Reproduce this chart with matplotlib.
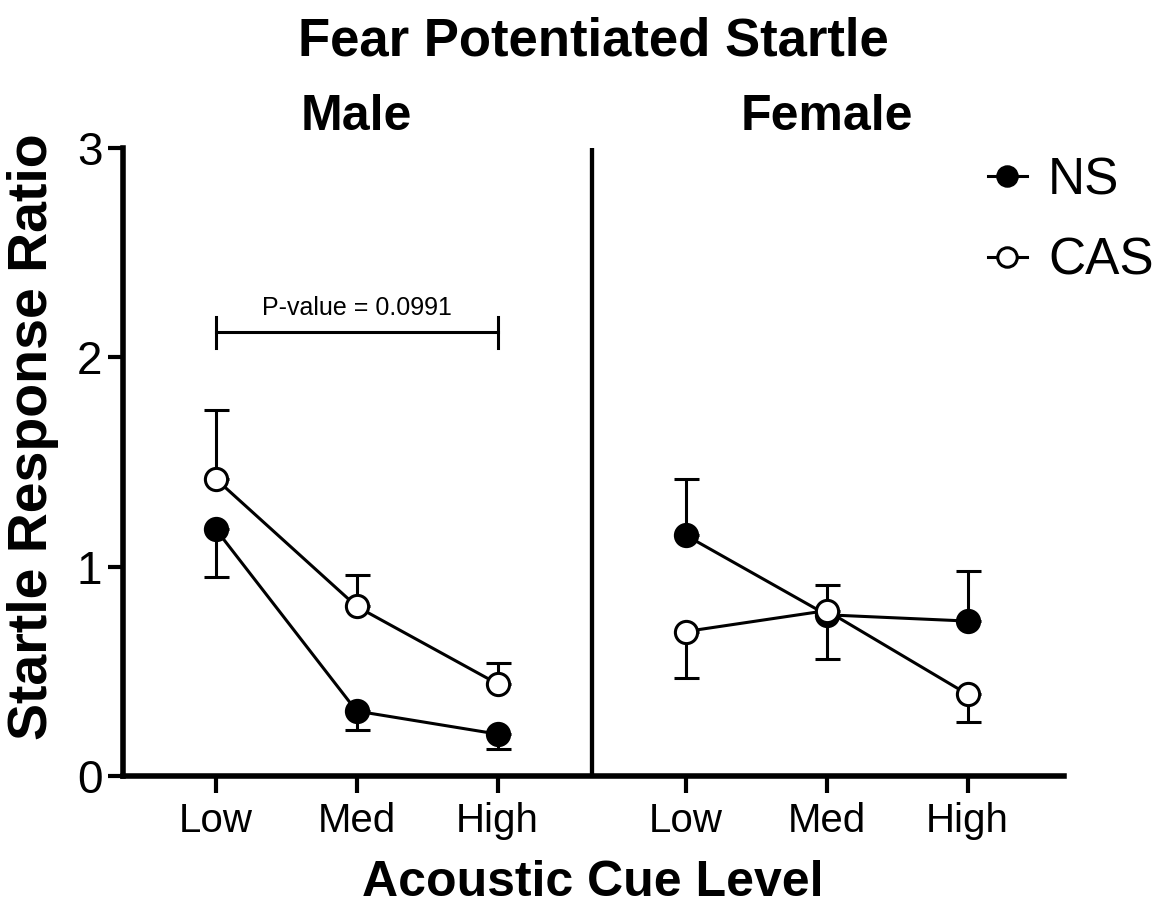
import matplotlib
matplotlib.use('Agg')
import matplotlib.pyplot as plt
from matplotlib.lines import Line2D
import numpy as np

plt.rcParams['font.family'] = 'Liberation Sans'

levels = ['Low', 'Med', 'High']

# startle ratio means, with one-sided SEM bars (lower, upper)
male_ns = [1.18, 0.31, 0.20]
male_ns_lo = [0.23, 0.09, 0.07]
male_ns_hi = [0.0, 0.0, 0.0]
male_cas = [1.42, 0.81, 0.44]
male_cas_lo = [0.0, 0.0, 0.0]
male_cas_hi = [0.33, 0.15, 0.10]

female_ns = [1.15, 0.77, 0.74]
female_ns_lo = [0.0, 0.0, 0.0]
female_ns_hi = [0.27, 0.14, 0.24]
female_cas = [0.69, 0.79, 0.39]
female_cas_lo = [0.22, 0.23, 0.13]
female_cas_hi = [0.0, 0.0, 0.0]

p_label = 'P-value = 0.0991'
p_y = 2.12

lw = 2.2
ms = 16

fig = plt.figure(figsize=(11.66, 9.08), dpi=100)
ax = fig.add_axes([0.1057, 0.1454, 0.8068, 0.6916])

xm = np.arange(3)
xf = np.arange(3) + 10 / 3.
mid = (xm[-1] + xf[0]) / 2


def draw(x, y, lo, hi, filled, z):
    ax.errorbar(x, y, yerr=[lo, hi], fmt='-o', color='black',
                linewidth=lw, elinewidth=lw, capsize=9, capthick=lw,
                markersize=ms, markeredgewidth=lw,
                markerfacecolor='black' if filled else 'white',
                markeredgecolor='black', zorder=z)


draw(xm, male_ns, male_ns_lo, male_ns_hi, True, 3)
draw(xm, male_cas, male_cas_lo, male_cas_hi, False, 4)
draw(xf, female_ns, female_ns_lo, female_ns_hi, True, 3)
draw(xf, female_cas, female_cas_lo, female_cas_hi, False, 4)

# divider between sexes
ax.plot([mid, mid], [0, 2.99], color='black', linewidth=3.1, zorder=2)

# significance bracket
ax.plot([xm[0], xm[-1]], [p_y, p_y], color='black', linewidth=lw)
for xx in (xm[0], xm[-1]):
    ax.plot([xx, xx], [p_y - 0.075, p_y + 0.075], color='black', linewidth=lw)
ax.text(xm[1], p_y + 0.08, p_label, ha='center', va='baseline', fontsize=18)

ax.set_xlim(-0.655, xf[-1] + 0.683)
ax.set_ylim(0, 3)
ax.set_yticks([0, 1, 2, 3])
ax.set_xticks(np.concatenate([xm, xf]))
ax.set_xticklabels(levels + levels)
ax.tick_params(axis='y', labelsize=33, length=11, width=3, pad=4)
ax.tick_params(axis='x', labelsize=29, length=12, width=3, pad=7)

for s in ('top', 'right'):
    ax.spines[s].set_visible(False)
for s in ('left', 'bottom'):
    ax.spines[s].set_linewidth(4)

ax.text(xm[1], 3.086, 'Male', ha='center', va='baseline',
        fontsize=36, fontweight='bold', clip_on=False)
ax.text(xf[1], 3.086, 'Female', ha='center', va='baseline',
        fontsize=36, fontweight='bold', clip_on=False)

fig.text(593 / 1166, 1 - 55 / 908, 'Fear Potentiated Startle', ha='center',
         va='baseline', fontsize=38, fontweight='bold')
fig.text(33 / 1166, 1 - 437 / 908, 'Startle Response Ratio', rotation=90,
         ha='center', va='center', fontsize=40, fontweight='bold')
fig.text(593 / 1166, 1 - 896 / 908, 'Acoustic Cue Level', ha='center',
         va='baseline', fontsize=36, fontweight='bold')

handles = [
    Line2D([], [], color='black', linewidth=lw, marker='o', markersize=14,
           markeredgewidth=lw, markerfacecolor='black'),
    Line2D([], [], color='black', linewidth=lw, marker='o', markersize=14,
           markeredgewidth=lw, markerfacecolor='white'),
]
fig.legend(handles, ['NS', 'CAS'], loc='center left',
           bbox_to_anchor=(988 / 1166, 1 - 221 / 908), frameon=False,
           fontsize=37, handlelength=0.75, handletextpad=0.42,
           labelspacing=0.62, borderpad=0, borderaxespad=0)

fig.savefig('out.png', dpi=100)
